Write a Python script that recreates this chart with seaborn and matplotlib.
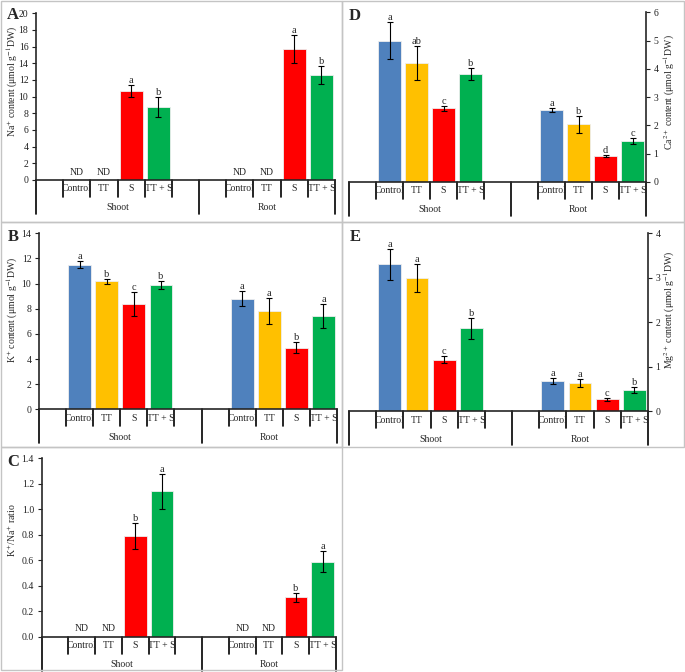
import numpy as np
import pandas as pd
import matplotlib
matplotlib.use("Agg")
import matplotlib.pyplot as plt
import matplotlib.transforms as mtrans
from matplotlib.patches import Rectangle
import seaborn as sns

# ==============================
# Data (ND = not detected -> nan)
# ==============================
treatments = ["Control", "TT", "S", "TT + S"]
organs = ["Shoot", "Root"]
colors = ["#4F81BD", "#FFC000", "#FF0000", "#00B050"]

# A - Na+
na_shoot = [np.nan, np.nan, 10.7, 8.7]
na_shoot_sd = [np.nan, np.nan, 0.7, 1.2]
na_root = [np.nan, np.nan, 15.7, 12.6]
na_root_sd = [np.nan, np.nan, 1.7, 1.1]
na_letters = ["", "", "a", "b", "", "", "a", "b"]

# B - K+
k_shoot = [11.5, 10.2, 8.4, 9.85]
k_shoot_sd = [0.27, 0.2, 0.95, 0.32]
k_root = [8.8, 7.85, 4.9, 7.4]
k_root_sd = [0.58, 1.03, 0.42, 0.95]
k_letters = ["a", "b", "c", "b", "a", "a", "b", "a"]

# C - K+/Na+
ratio_shoot = [np.nan, np.nan, 0.79, 1.14]
ratio_shoot_sd = [np.nan, np.nan, 0.1, 0.135]
ratio_root = [np.nan, np.nan, 0.31, 0.59]
ratio_root_sd = [np.nan, np.nan, 0.035, 0.083]
ratio_letters = ["", "", "b", "a", "", "", "b", "a"]

# D - Ca2+
ca_shoot = [5.0, 4.2, 2.6, 3.82]
ca_shoot_sd = [0.64, 0.6, 0.1, 0.21]
ca_root = [2.54, 2.05, 0.92, 1.45]
ca_root_sd = [0.08, 0.3, 0.05, 0.1]
ca_letters = ["a", "ab", "c", "b", "a", "b", "d", "c"]

# E - Mg2+
mg_shoot = [3.3, 3.0, 1.15, 1.86]
mg_shoot_sd = [0.34, 0.32, 0.08, 0.23]
mg_root = [0.68, 0.63, 0.26, 0.47]
mg_root_sd = [0.07, 0.08, 0.04, 0.06]
mg_letters = ["a", "a", "c", "b", "a", "a", "c", "b"]

# category slots like an Excel multi-level axis (blank slots between groups)
slots = ["pad0"] + [f"Shoot|{t}" for t in treatments] + ["pad1", "pad2"] + \
        [f"Root|{t}" for t in treatments]

W, H = 685, 672
sns.set_style("white")
plt.rcParams["font.family"] = ["Liberation Serif", "DejaVu Serif"]
plt.rcParams["mathtext.fontset"] = "stix"

fig = plt.figure(figsize=(W / 100, H / 100), dpi=100)


def px_axes(x0, y0, x1, y1):
    return fig.add_axes([x0 / W, 1 - y1 / H, (x1 - x0) / W, (y1 - y0) / H])


def panel(ax, shoot, shoot_sd, root, root_sd, letters, ylim, yticks, ylabel,
          fmt="{:.0f}", right=False, label_xy=(0, 0), tag="A", tag_xy=(0, 0)):
    rows = []
    for organ, vals, sds in [("Shoot", shoot, shoot_sd), ("Root", root, root_sd)]:
        for t, v, s in zip(treatments, vals, sds):
            rows.append({"slot": f"{organ}|{t}", "treatment": t, "value": v, "sd": s})
    df = pd.DataFrame(rows)
    df["letter"] = letters
    df["pos"] = [slots.index(s) for s in df["slot"]]

    sns.barplot(data=df.dropna(subset=["value"]), x="slot", y="value", hue="treatment",
                order=slots, hue_order=treatments, palette=colors, saturation=1,
                width=0.84, errorbar=None, legend=False, ax=ax,
                edgecolor="#eeeeee", linewidth=0.6)
    ok = df.dropna(subset=["value"])
    ax.errorbar(ok["pos"], ok["value"], yerr=ok["sd"], fmt="none", ecolor="black",
                elinewidth=0.8, capsize=2.2, capthick=0.8)
    for _, r in ok.iterrows():
        ax.text(r["pos"], r["value"] + r["sd"], r["letter"], ha="center", va="bottom",
                fontsize=7.5)
    ymax = ylim[1]
    for _, r in df[df["value"].isna()].iterrows():
        ax.text(r["pos"], ymax * 0.02, "ND", ha="center", va="bottom", fontsize=7)

    ax.set_xlim(-0.5, len(slots) - 0.5)
    ax.set_ylim(*ylim)
    ax.set_yticks(yticks)
    ax.set_yticklabels([fmt.format(v) for v in yticks])
    ax.set_xticks([])
    ax.set_xlabel("")
    ax.set_ylabel("")
    for sp in ax.spines.values():
        sp.set_visible(False)
    ax.spines["bottom"].set_visible(True)
    ax.spines["bottom"].set_linewidth(1.2)
    side = "right" if right else "left"
    ax.spines[side].set_visible(True)
    ax.spines[side].set_linewidth(1.2)
    if right:
        ax.yaxis.tick_right()
    ax.tick_params(axis="y", direction="out", length=3, width=0.8, labelsize=7,
                   pad=2.5, colors="#222222", left=not right, right=right)

    # multi-level category axis below the plot
    hpx = ax.bbox.height
    tr = mtrans.blended_transform_factory(ax.transData, ax.transAxes)
    short, long_ = 17 / hpx, 34 / hpx
    for b in [0.5, 1.5, 2.5, 3.5, 4.5, 6.5, 7.5, 8.5, 9.5]:
        ax.plot([b, b], [0, -short], color="black", lw=1.2, transform=tr, clip_on=False)
    for b in [-0.5, 5.5, 10.5]:
        ax.plot([b, b], [0, -long_], color="black", lw=1.2, transform=tr, clip_on=False)
    for organ, start, gx in [("Shoot", 1, 2.5), ("Root", 7, 8)]:
        for i, t in enumerate(treatments):
            ax.text(start + i, -9 / hpx, t, transform=tr, ha="center", va="center",
                    fontsize=7)
        ax.text(gx, -28 / hpx, organ, transform=tr, ha="center", va="center", fontsize=7)

    fig.text(label_xy[0] / W, 1 - label_xy[1] / H, ylabel, rotation=90, ha="center",
             va="center", fontsize=7)
    fig.text(tag_xy[0] / W, 1 - tag_xy[1] / H, tag, ha="center", va="center",
             fontsize=12, fontweight="bold")


# panel frames
for x, y, w, h in [(1, 1, 341, 221), (342, 1, 342, 221), (1, 222, 341, 225),
                   (342, 222, 342, 225), (1, 447, 341, 223)]:
    fig.add_artist(Rectangle((x / W, 1 - (y + h) / H), w / W, h / H, fill=False,
                             edgecolor="#c4c4c4", lw=1, transform=fig.transFigure))

axA = px_axes(36, 13.3, 335, 180)
panel(axA, na_shoot, na_shoot_sd, na_root, na_root_sd, na_letters, (0, 20),
      np.arange(0, 21, 2), r"Na$^{+}$ content (μmol g$^{-1}$DW)",
      label_xy=(12, 82), tag="A", tag_xy=(13, 15))

axB = px_axes(39, 233.3, 337, 409.3)
panel(axB, k_shoot, k_shoot_sd, k_root, k_root_sd, k_letters, (0, 14),
      np.arange(0, 15, 2), r"K$^{+}$ content (μmol g$^{-1}$DW)",
      label_xy=(12, 310), tag="B", tag_xy=(13, 237))

axC = px_axes(41.7, 458.3, 336, 636.7)
panel(axC, ratio_shoot, ratio_shoot_sd, ratio_root, ratio_root_sd, ratio_letters,
      (0, 1.4), np.round(np.arange(0, 1.41, 0.2), 1), r"K$^{+}$/Na$^{+}$ ratio",
      fmt="{:.1f}", label_xy=(12, 530), tag="C", tag_xy=(13, 462))

axD = px_axes(349, 12.3, 646, 182)
panel(axD, ca_shoot, ca_shoot_sd, ca_root, ca_root_sd, ca_letters, (0, 6),
      np.arange(0, 7, 1), r"Ca$^{2+}$ content (μmol g$^{-1}$DW)", right=True,
      label_xy=(669, 92), tag="D", tag_xy=(355, 16))

axE = px_axes(349, 233.3, 648, 411)
panel(axE, mg_shoot, mg_shoot_sd, mg_root, mg_root_sd, mg_letters, (0, 4),
      np.arange(0, 5, 1), r"Mg$^{2+}$ content (μmol g$^{-1}$DW)", right=True,
      label_xy=(669, 310), tag="E", tag_xy=(355, 237))

fig.savefig("out.png", dpi=100, facecolor="white")
